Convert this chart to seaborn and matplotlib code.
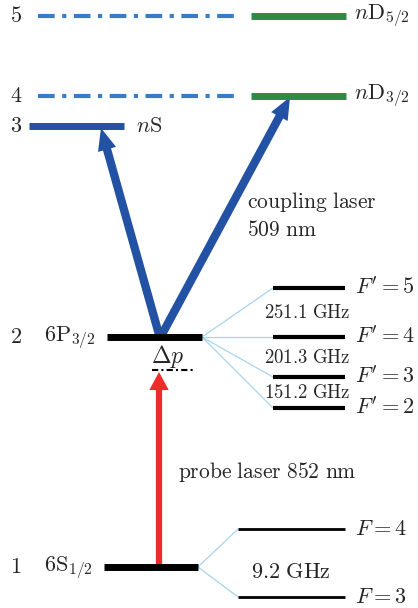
import matplotlib.pyplot as plt
from matplotlib.patches import FancyArrowPatch
import pandas as pd
import seaborn as sns

# --- Data: energy levels (diagram units, y grows downward like the image) ---
level_ids = ["1", "2", "3", "4", "5"]
level_y = [567, 337, 126, 96, 16]

main_names = [r"$6\mathrm{S}_{1/2}$", r"$6\mathrm{P}_{3/2}$", r"$n\mathrm{S}$"]
rydberg_names = [r"$n\mathrm{D}_{3/2}$", r"$n\mathrm{D}_{5/2}$"]

# hyperfine sublevels
hf_p_labels = [r"$F'=5$", r"$F'=4$", r"$F'=3$", r"$F'=2$"]
hf_p_y = [288, 337, 377, 408]
hf_p_split = ["251.1 GHz", "201.3 GHz", "151.2 GHz"]

hf_s_labels = [r"$F=4$", r"$F=3$"]
hf_s_y = [529, 597]
hf_s_split = ["9.2 GHz"]

coupling_text = ["coupling laser", "509 nm"]
probe_text = "probe laser 852 nm"

sns.set_style("white")
plt.rcParams["mathtext.fontset"] = "cm"
plt.rcParams["font.family"] = ["DejaVu Serif"]

def cm(s):
    return r"$\mathrm{" + s.replace(" ", r"\ ") + "}$"

fig = plt.figure(figsize=(4.18, 6.08), dpi=100)
ax = fig.add_axes([0, 0, 1, 1])

BLUE_DASH = "#3b7cc8"
GREEN = "#2e8b45"
DARK_BLUE = "#2352a4"
RED = "#ee2b2b"
LIGHT = "#a8d3f0"

y1, y2, y3, y4, y5 = level_y

# hyperfine connectors via seaborn
conn = pd.DataFrame({
    "x": [202, 273] * len(hf_p_y) + [198, 238] * len(hf_s_y),
    "y": sum([[y2, y] for y in hf_p_y], []) + sum([[y1, y] for y in hf_s_y], []),
    "seg": sum([[i, i] for i in range(len(hf_p_y) + len(hf_s_y))], []),
})
sns.lineplot(data=conn, x="x", y="y", units="seg", estimator=None, sort=False,
             color=LIGHT, lw=0.9, ax=ax, legend=False)

ax.set_xlim(0, 418)
ax.set_ylim(608, 0)
ax.axis("off")

# level numbers on the left
for lid, y in zip(level_ids, level_y):
    ax.text(16, y, "$" + lid + "$", fontsize=16, ha="center", va="center")

# Rydberg dash-dot placeholders + green D levels
for y, name in zip([y4, y5], rydberg_names):
    ax.plot([38, 237], [y, y], color=BLUE_DASH, lw=3, dash_capstyle="butt",
            linestyle=(0, (4, 1.8, 1, 1.8)))
    ax.plot([251, 346], [y, y], color=GREEN, lw=5, solid_capstyle="butt")
    ax.text(354, y, name, fontsize=16, ha="left", va="center")

# nS level
ax.plot([29, 124], [y3, y3], color=DARK_BLUE, lw=5, solid_capstyle="butt")
ax.text(136, y3, main_names[2], fontsize=16, ha="left", va="center")

# 6P3/2 and 6S1/2
ax.plot([107, 202], [y2, y2], color="black", lw=5, solid_capstyle="butt")
ax.text(70, y2 + 1, main_names[1], fontsize=16, ha="center", va="center")
ax.plot([104, 198], [y1, y1], color="black", lw=5, solid_capstyle="butt")
ax.text(68, y1 + 1, main_names[0], fontsize=16, ha="center", va="center")

# hyperfine sublevels of 6P3/2
for y, lab in zip(hf_p_y, hf_p_labels):
    ax.plot([273, 345], [y, y], color="black", lw=3, solid_capstyle="butt")
    ax.text(355, y, lab, fontsize=16, ha="left", va="center")
for (ya, yb), lab in zip(zip(hf_p_y[:-1], hf_p_y[1:]), hf_p_split):
    ax.text(307, (ya + yb) / 2 + 1, cm(lab), fontsize=13.5, ha="center", va="center")

# hyperfine sublevels of 6S1/2
for y, lab in zip(hf_s_y, hf_s_labels):
    ax.plot([238, 345], [y, y], color="black", lw=2, solid_capstyle="butt")
    ax.text(355, y, lab, fontsize=16, ha="left", va="center")
ax.text(291, 572, cm(hf_s_split[0]), fontsize=16, ha="center", va="center")

# detuning
ax.text(168, 357, r"$\Delta p$", fontsize=17, ha="center", va="center")
ax.plot([152, 195], [370, 370], color="black", lw=1.5,
        linestyle=(0, (3, 1.5, 1, 1.5)))

# probe laser arrow
ax.add_patch(FancyArrowPatch((159, y1), (159, 372),
                             arrowstyle="simple,tail_width=0.45,head_width=1.4,head_length=1.3",
                             mutation_scale=10, color=RED, lw=0, shrinkA=0, shrinkB=0))
ax.text(178, 472, cm(probe_text), fontsize=15.5, ha="left", va="center")

# coupling laser arrows
for tip in [(101, 128), (290, 97)]:
    ax.add_patch(FancyArrowPatch((160, y2 + 1), tip,
                                 arrowstyle="simple,tail_width=0.6,head_width=1.35,head_length=1.6",
                                 mutation_scale=10, color=DARK_BLUE, lw=0, shrinkA=0, shrinkB=0))
ax.text(247, 202, cm(coupling_text[0]), fontsize=15.5, ha="left", va="center")
ax.text(247, 230, cm(coupling_text[1]), fontsize=15.5, ha="left", va="center")

plt.savefig("out.png", dpi=100)
